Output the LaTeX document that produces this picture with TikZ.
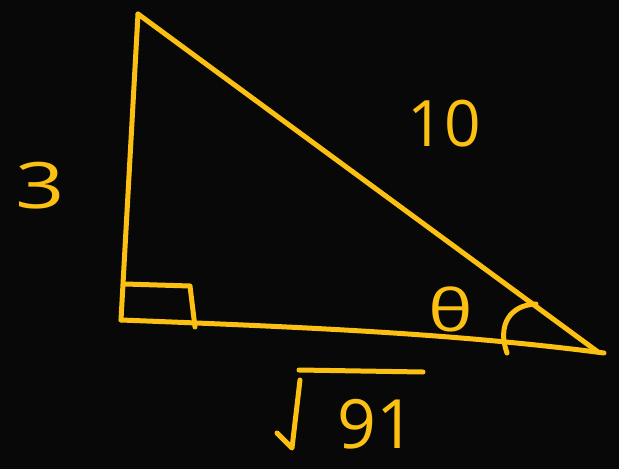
\documentclass[tikz,border=0pt]{standalone}
\usepackage{fontspec}
\setmainfont{Open Sans}
\definecolor{penc}{RGB}{252,192,18}
\definecolor{bgc}{RGB}{8,8,8}
\begin{document}
\begin{tikzpicture}[x=1pt,y=-1pt,
  pen/.style={draw=penc, line width=5pt, line cap=round, line join=round},
  lbl/.style={text=penc, inner sep=0pt, font=\fontsize{64}{64}\selectfont}]
\fill[bgc] (0,0) rectangle (619,469);
\useasboundingbox (0,0) rectangle (619,469);
% vertices
\coordinate (A) at (138,14);
\coordinate (B) at (121,320);
\coordinate (C) at (604,353);
% sides
\draw[pen] (A) -- (B);
\draw[pen] (B) .. controls (300,327) and (450,333) .. (C);
\draw[pen] (A) -- (598,352);
% right-angle marker
\coordinate (r1) at (125,284);
\coordinate (r2) at (190,286);
\coordinate (r3) at (195,327);
\draw[pen] (r1) -- (r2) -- (r3);
% angle arc
\coordinate (a1) at (507,353);
\coordinate (a2) at (536,304);
\draw[pen] (a1) .. controls (497,325) and (510,305) .. (a2);
% labels
\node[lbl, xscale=1.35] (three) at (40,186) {3};
\node[lbl] (ten) at (444,124) {10};
\node[lbl, xscale=1.3, font=\fontsize{58}{58}\selectfont] (theta) at (451,309) {θ};
\node[lbl, font=\fontsize{68}{68}\selectfont] (nine) at (376,424) {91};
% radical sign
\coordinate (s1) at (277,433);
\coordinate (s2) at (292,448);
\coordinate (s3) at (300,380);
\coordinate (s4) at (299,370);
\coordinate (s5) at (423,372);
\draw[pen] (s1) -- (s2) -- (s3);
\draw[pen] (s4) -- (s5);
\end{tikzpicture}
\end{document}
